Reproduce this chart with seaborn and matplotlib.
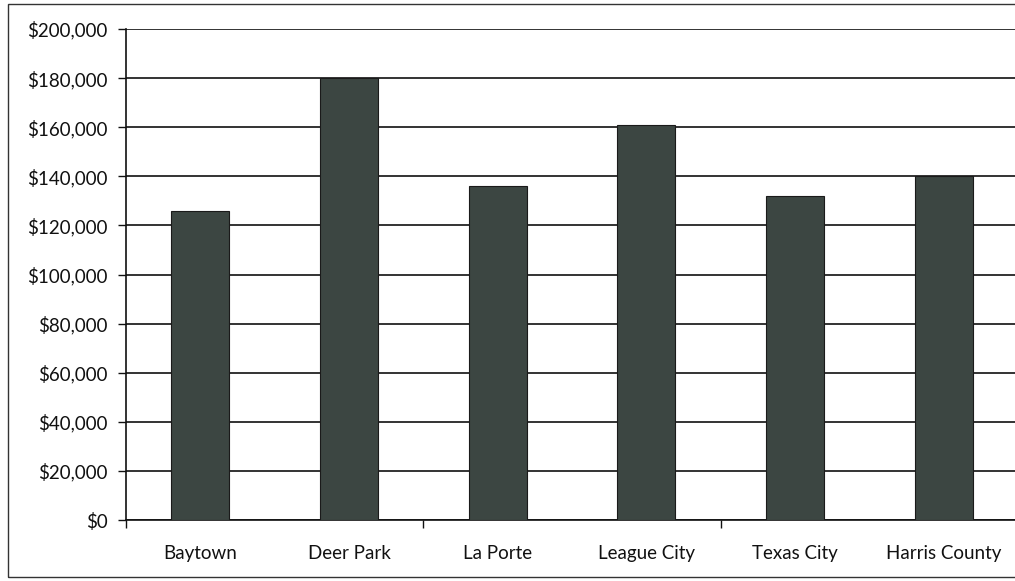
import matplotlib
matplotlib.use("Agg")
import matplotlib.pyplot as plt
import matplotlib.patches as mpatches
from matplotlib.ticker import FuncFormatter, FixedLocator
import seaborn as sns
import pandas as pd

# Median home value by area
areas = ["Baytown", "Deer Park", "La Porte", "League City", "Texas City", "Harris County"]
values = [126000, 180000, 136000, 161000, 132000, 140000]
y_ticks = [0, 20000, 40000, 60000, 80000, 100000, 120000, 140000, 160000, 180000, 200000]

df = pd.DataFrame({"area": areas, "value": values})

sns.set_theme(style="white")
plt.rcParams["font.family"] = ["Lato", "DejaVu Sans"]

fig = plt.figure(figsize=(10.15, 5.81), dpi=100)
fig.patch.set_facecolor("white")

# outer chart frame
frame = mpatches.Rectangle((8 / 1015, 4 / 581), 1.2, (577 - 4) / 581,
                           transform=fig.transFigure, fill=False,
                           edgecolor="#333333", linewidth=1.0)
fig.patches.append(frame)

ax = fig.add_axes([126 / 1015, 61 / 581, 892 / 1015, 491 / 581])
ax.set_facecolor("none")

sns.barplot(data=df, x="area", y="value", order=areas, color="#3c4642",
            width=0.39, edgecolor="#1a1a1a", linewidth=0.8, saturation=1,
            ax=ax, zorder=3)

ax.set_xlim(-0.5, len(areas) - 0.5)
ax.set_ylim(0, 200000)
ax.yaxis.set_major_locator(FixedLocator(y_ticks))
ax.yaxis.set_major_formatter(FuncFormatter(lambda v, p: f"${v:,.0f}"))
ax.grid(axis="y", color="#111111", linewidth=1.2, zorder=0)
ax.grid(axis="x", visible=False)
ax.set_axisbelow(True)

for side in ["top", "right"]:
    ax.spines[side].set_visible(False)
for side in ["left", "bottom"]:
    ax.spines[side].set_color("#111111")
    ax.spines[side].set_linewidth(1.2)

ax.set_xlabel("")
ax.set_ylabel("")
ax.tick_params(axis="y", which="major", left=True, length=6, width=1.0,
               color="#111111", labelsize=13.5, labelcolor="#111111", pad=7)
ax.tick_params(axis="x", which="major", bottom=False, length=0,
               labelsize=13.5, labelcolor="#111111", pad=18)
ax.xaxis.set_minor_locator(FixedLocator([-0.5, 1.5, 3.5, 5.5]))
ax.tick_params(axis="x", which="minor", bottom=True, length=6, width=1.0,
               color="#111111", direction="out")

fig.savefig("out.png", dpi=100, facecolor="white")
